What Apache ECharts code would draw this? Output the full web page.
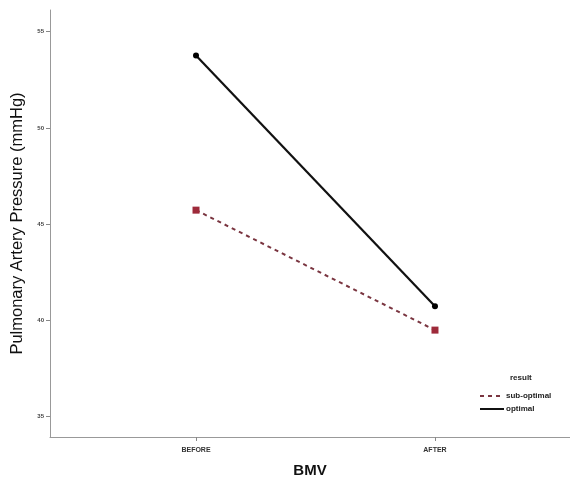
<!DOCTYPE html>
<html><head><meta charset="utf-8">
<script src="https://cdn.jsdelivr.net/npm/echarts@6/dist/echarts.min.js"></script>
<style>html,body{margin:0;padding:0;background:#fff}#c{width:570px;height:483px}</style>
</head><body><div id="c"></div>
<script>
const categories = ['BEFORE', 'AFTER'];
const subOptimal = [45.72, 39.48];
const optimal = [53.76, 40.72];
const yTicks = [35, 40, 45, 50, 55];
const seriesNames = ['sub-optimal', 'optimal'];

const chart = echarts.init(document.getElementById('c'));
const toXY = arr => arr.map((v, i) => [i + 1, v]);
chart.setOption({
  animation: false,
  backgroundColor: '#fff',
  grid: { left: 50, right: 0, top: 10, bottom: 42 },
  title: { text: 'result', left: 505, top: 369, textStyle: { fontSize: 8, fontWeight: 'bold', color: '#222', fontFamily: 'Liberation Sans Narrow, Arial' } },
  legend: {
    orient: 'vertical', left: 474, top: 387, itemWidth: 24, itemHeight: 8, itemGap: 5,
    data: seriesNames,
    itemStyle: { opacity: 0 },
    textStyle: { fontSize: 8, fontWeight: 'bold', color: '#222', padding: [0, 0, 0, -3] }
  },
  xAxis: {
    type: 'value', min: 0.389, max: 2.565,
    name: 'BMV', nameLocation: 'middle', nameGap: 26,
    nameTextStyle: { fontSize: 15, fontWeight: 'bold', color: '#111', fontFamily: 'Liberation Sans' },
    axisLine: { lineStyle: { color: '#999', width: 1 } },
    axisTick: { show: true, customValues: [1, 2], length: 4, lineStyle: { color: '#888' } },
    axisLabel: { customValues: [1, 2], formatter: v => categories[Math.round(v) - 1] || '', fontSize: 7, fontWeight: 'bold', color: '#333', margin: 10 },
    splitLine: { show: false }
  },
  yAxis: {
    type: 'value', min: 33.92, max: 56.13,
    name: 'Pulmonary Artery Pressure (mmHg)', nameLocation: 'middle', nameGap: 20, nameRotate: 90,
    nameTextStyle: { fontSize: 16.5, color: '#111', fontFamily: 'Liberation Sans' },
    axisLine: { show: true, lineStyle: { color: '#999', width: 1 } },
    axisTick: { show: true, customValues: yTicks, length: 4, lineStyle: { color: '#888' } },
    axisLabel: { customValues: yTicks, fontSize: 6, fontWeight: 'bold', color: '#444', margin: 6 },
    splitLine: { show: false }
  },
  series: [
    {
      name: seriesNames[0], type: 'line', data: toXY(subOptimal),
      symbol: 'rect', symbolSize: 7,
      itemStyle: { color: '#9e2a3a' },
      lineStyle: { color: '#7a3540', width: 2, type: [4, 4] }
    },
    {
      name: seriesNames[1], type: 'line', data: toXY(optimal),
      symbol: 'circle', symbolSize: 6,
      itemStyle: { color: '#000' },
      lineStyle: { color: '#111', width: 2.2 }
    }
  ]
});
</script></body></html>
